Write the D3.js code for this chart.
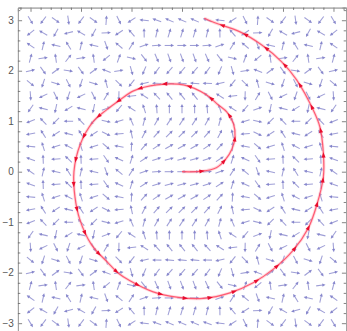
<!DOCTYPE html>
<html>
<head>
<meta charset="utf-8">
<script src="https://cdn.jsdelivr.net/npm/d3@7"></script>
<style>
  html, body { margin: 0; padding: 0; background: #fff; }
  svg { display: block; }
</style>
</head>
<body>
<svg id="chart" width="347" height="331"></svg>
<script>
// Sample grid of the vector field (both axes -3..3, step 0.25)
const gridX = d3.range(25).map(i => -3 + i * 0.25);
const gridY = d3.range(25).map(j => 3 - j * 0.25);

// Direction of the arrows, in degrees: a per-row part and a per-column part
const rowAngles = [156, 73, 0, 290, 229, 175, 129, 90, 57, 45, 30, 15, 0,
                   15, 30, 45, 57, 90, 129, 175, 229, 290, 0, 73, 156];
const colAngles = [145, 77, 168, 122, 77, 168, 290, 140, 57, 18, 4, 0, 0,
                   0, 4, 18, 57, 140, 290, 168, 77, 122, 168, 77, 145];

// Trajectory drawn in red (spiral leaving the origin)
const pathX = [0, 0.40, 0.68, 0.86, 0.99, 1.05, 1.02, 0.89, 0.72, 0.49, 0.03, -0.50, -0.96, -1.23,
               -1.50, -1.76, -2.02, -2.14, -2.12, -2.02, -1.79, -1.46, -1.26, -1.03, -0.57, -0.07,
               0.42, 0.95, 1.41, 1.81, 2.20, 2.50, 2.67, 2.80, 2.80, 2.73, 2.60, 2.27, 1.97, 1.58,
               1.15, 0.65, 0.44];
const pathY = [0, 0.01, 0.08, 0.24, 0.45, 0.69, 0.95, 1.18, 1.32, 1.52, 1.72, 1.72, 1.60, 1.42,
               1.22, 0.99, 0.53, 0.00, -0.50, -0.96, -1.45, -1.81, -2.01, -2.16, -2.38, -2.49,
               -2.51, -2.40, -2.20, -1.93, -1.56, -1.12, -0.66, -0.10, 0.36, 0.89, 1.22, 1.82,
               2.18, 2.51, 2.77, 2.95, 3.04];

// Frame tick values and left-hand labels
const majorTicks = [-3, -2, -1, 0, 1, 2, 3];
const minorTicks = d3.range(-16, 17).map(k => +(k * 0.2).toFixed(1))
                     .filter(v => Math.abs(v - Math.round(v)) > 1e-6);
const tickLabels = ["\u22123", "\u22122", "\u22121", "0", "1", "2", "3"];

const svg = d3.select("#chart");
const x = d3.scaleLinear().domain([-3.25, 3.25]).range([17.9, 346.1]);
const y = d3.scaleLinear().domain([-3.25, 3.25]).range([335.8, 7.6]);

const defs = svg.append("defs");
defs.append("filter").attr("id", "soft")
  .append("feGaussianBlur").attr("stdDeviation", 0.5);
defs.append("filter").attr("id", "softer")
  .append("feGaussianBlur").attr("stdDeviation", 0.35);

// ---- vector field arrows ----
const cells = [];
gridY.forEach((yy, j) => gridX.forEach((xx, i) => {
  cells.push({ x: xx, y: yy, a: rowAngles[j] + colAngles[i] });
}));

const L = 9.4, headLen = 3.2, headW = 1.6;
const arrowG = svg.append("g").attr("filter", "url(#soft)");
const arrows = arrowG.selectAll("g.arrow").data(cells).join("g")
  .attr("class", "arrow")
  .attr("transform", d => `translate(${x(d.x)},${y(d.y)}) rotate(${-d.a})`);
arrows.append("line")
  .attr("x1", -L / 2).attr("y1", 0)
  .attr("x2", L / 2 - headLen + 0.5).attr("y2", 0)
  .attr("stroke", "#8686cc").attr("stroke-width", 1.05).attr("stroke-opacity", 0.8);
arrows.append("path")
  .attr("d", `M${L / 2},0 L${L / 2 - headLen},${-headW} L${L / 2 - headLen},${headW} Z`)
  .attr("fill", "#6c6cc0").attr("fill-opacity", 0.8);

// ---- frame ----
const frame = svg.append("g").attr("font-family", "'Liberation Serif', 'DejaVu Serif', serif");
const frameColor = "#9a9a9a";

function styleAxis(g) {
  g.select(".domain").attr("stroke", frameColor).attr("stroke-width", 0.8);
  g.selectAll(".tick line").attr("stroke", "#666").attr("stroke-width", 0.8);
}

// left: labelled majors + minors
const leftAxis = frame.append("g").attr("transform", `translate(${x(-3.25)},0)`)
  .call(d3.axisLeft(y).tickValues(majorTicks).tickSize(-4.2).tickPadding(4)
        .tickFormat((d, i) => tickLabels[i]));
styleAxis(leftAxis);
leftAxis.selectAll(".tick text").attr("font-size", 10).attr("fill", "#555");
const leftMinor = frame.append("g").attr("transform", `translate(${x(-3.25)},0)`)
  .call(d3.axisLeft(y).tickValues(minorTicks).tickSize(-2.4).tickFormat(""));
styleAxis(leftMinor);

// top: ticks only
const topAxis = frame.append("g").attr("transform", `translate(0,${y(3.25)})`)
  .call(d3.axisTop(x).tickValues(majorTicks).tickSize(-4.2).tickFormat(""));
styleAxis(topAxis);
const topMinor = frame.append("g").attr("transform", `translate(0,${y(3.25)})`)
  .call(d3.axisTop(x).tickValues(minorTicks).tickSize(-2.4).tickFormat(""));
styleAxis(topMinor);

// right: ticks only
const rightAxis = frame.append("g").attr("transform", `translate(${x(3.25)},0)`)
  .call(d3.axisRight(y).tickValues(majorTicks).tickSize(-4.2).tickFormat(""));
styleAxis(rightAxis);
const rightMinor = frame.append("g").attr("transform", `translate(${x(3.25)},0)`)
  .call(d3.axisRight(y).tickValues(minorTicks).tickSize(-2.4).tickFormat(""));
styleAxis(rightMinor);

// ---- red trajectory ----
const pts = pathX.map((v, i) => [x(v), y(pathY[i])]);
const line = d3.line().curve(d3.curveCatmullRom.alpha(0.5));
const curveG = svg.append("g");
curveG.append("path").attr("d", line(pts))
  .attr("fill", "none").attr("stroke", "#ff9aa8").attr("stroke-width", 3)
  .attr("stroke-opacity", 0.4).attr("filter", "url(#soft)");
const core = curveG.append("path").attr("d", line(pts))
  .attr("fill", "none").attr("stroke", "#ff4560").attr("stroke-width", 1.2)
  .attr("stroke-opacity", 0.85);

// arrowheads along the trajectory, evenly spaced by arc length
const node = core.node();
const total = node.getTotalLength();
const heads = d3.range(20, total - 4, 25).map(s => {
  const p = node.getPointAtLength(s);
  const q = node.getPointAtLength(Math.min(total, s + 1));
  return { x: p.x, y: p.y, a: Math.atan2(q.y - p.y, q.x - p.x) * 180 / Math.PI };
});
curveG.append("g").attr("filter", "url(#softer)")
  .selectAll("path").data(heads).join("path")
  .attr("transform", d => `translate(${d.x},${d.y}) rotate(${d.a})`)
  .attr("d", "M2.8,0 L-2.6,-2 L-2.6,2 Z")
  .attr("fill", "#e8102e");
</script>
</body>
</html>
